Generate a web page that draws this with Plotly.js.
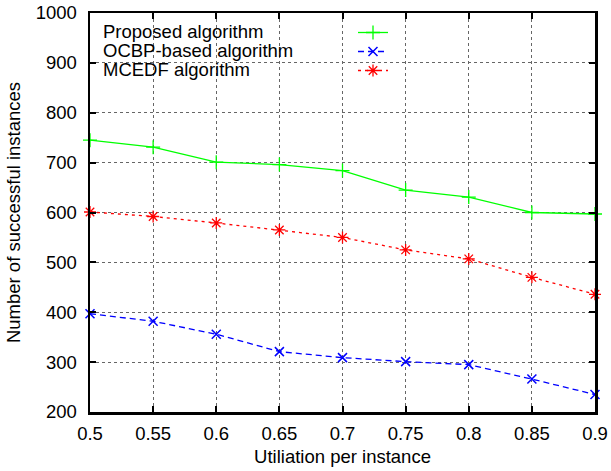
<!DOCTYPE html>
<html>
<head>
<meta charset="utf-8">
<script src="https://cdn.plot.ly/plotly-3.0.1.min.js"></script>
<style>html,body{margin:0;padding:0;background:#fff;}#chart{width:611px;height:471px;}</style>
</head>
<body>
<div id="chart"></div>
<script>
const utilization = [0.5, 0.55, 0.6, 0.65, 0.7, 0.75, 0.8, 0.85, 0.9];
const proposed = [745, 731, 701, 696, 684, 645, 631, 600, 597];
const ocbp = [397, 382, 356, 321, 309, 301, 295, 266, 235];
const mcedf = [601, 592, 579, 565, 550, 525, 507, 470, 436];
const seriesNames = ["Proposed algorithm", "OCBP-based algorithm", "MCEDF algorithm"];
const xTickVals = [0.5, 0.55, 0.6, 0.65, 0.7, 0.75, 0.8, 0.85, 0.9];
const xTickText = ["0.5", "0.55", "0.6", "0.65", "0.7", "0.75", "0.8", "0.85", "0.9"];
const yTickVals = [200, 300, 400, 500, 600, 700, 800, 900, 1000];

const FONT = "Liberation Sans, Arial, sans-serif";
const traces = [
  {x: utilization, y: proposed, name: " ", mode: "lines+markers", cliponaxis: false,
   line: {color: "#00ff00", width: 1.3, dash: "solid"},
   marker: {symbol: "cross-thin-open", size: 10, line: {color: "#00ff00", width: 1.3}}},
  {x: utilization, y: ocbp, name: " ", mode: "lines+markers", cliponaxis: false,
   line: {color: "#0000ff", width: 1.3, dash: "6px,4px"},
   marker: {symbol: "x-thin-open", size: 9, line: {color: "#0000ff", width: 1.5}}},
  {x: utilization, y: mcedf, name: " ", mode: "lines+markers", cliponaxis: false,
   line: {color: "#ff0000", width: 1.3, dash: "3px,4px"},
   marker: {symbol: "asterisk-open", size: 10, line: {color: "#ff0000", width: 1.3}}}
];

const W = 505, H = 399;
const annotations = seriesNames.map((n, i) => ({
  xref: "paper", yref: "paper", x: (101 - 90) / W, y: 1 - ([31, 50.5, 70][i] - 13) / H,
  xanchor: "left", yanchor: "middle", text: n, showarrow: false,
  font: {family: FONT, size: 18.5, color: "#000"}
}));

const layout = {
  width: 611, height: 471,
  margin: {l: 90, r: 16, t: 13, b: 59},
  paper_bgcolor: "#fff", plot_bgcolor: "#fff",
  font: {family: FONT, size: 18, color: "#000"},
  showlegend: true,
  legend: {x: (353 - 90) / W, y: 1 - (18 - 13) / H, xanchor: "left", yanchor: "top",
           bgcolor: "rgba(255,255,255,0)", font: {family: FONT, size: 12.3}, traceorder: "normal",
           itemwidth: 30},
  xaxis: {
    range: [0.5, 0.9], tickvals: xTickVals, ticktext: xTickText,
    showline: true, linecolor: "#000", linewidth: 2.5, mirror: "ticks",
    ticks: "inside", ticklen: 6, tickwidth: 2, tickcolor: "#000",
    showgrid: true, gridcolor: "#666", griddash: "dot", gridwidth: 1,
    zeroline: false, ticklabelstandoff: 3,
    tickfont: {family: FONT, size: 18.5},
    title: {text: "Utiliation per instance", font: {family: FONT, size: 18.5}, standoff: 8}
  },
  yaxis: {
    range: [200, 1000], tickvals: yTickVals,
    showline: true, linecolor: "#000", linewidth: 2.5, mirror: "ticks",
    ticks: "inside", ticklen: 6, tickwidth: 2, tickcolor: "#000",
    showgrid: true, gridcolor: "#666", griddash: "dot", gridwidth: 1,
    zeroline: false, ticklabelstandoff: 7,
    tickfont: {family: FONT, size: 18.5},
    title: {text: "Number of successful instances", font: {family: FONT, size: 18.5}, standoff: 10}
  },
  shapes: [{type: "rect", xref: "paper", yref: "paper", layer: "between",
            x0: 0, x1: (407 - 90) / W, y0: 1 - (79 - 13) / H, y1: 1,
            fillcolor: "#fff", line: {width: 0}}],
  annotations: annotations
};

Plotly.newPlot("chart", traces, layout, {displayModeBar: false, staticPlot: true});
</script>
</body>
</html>
